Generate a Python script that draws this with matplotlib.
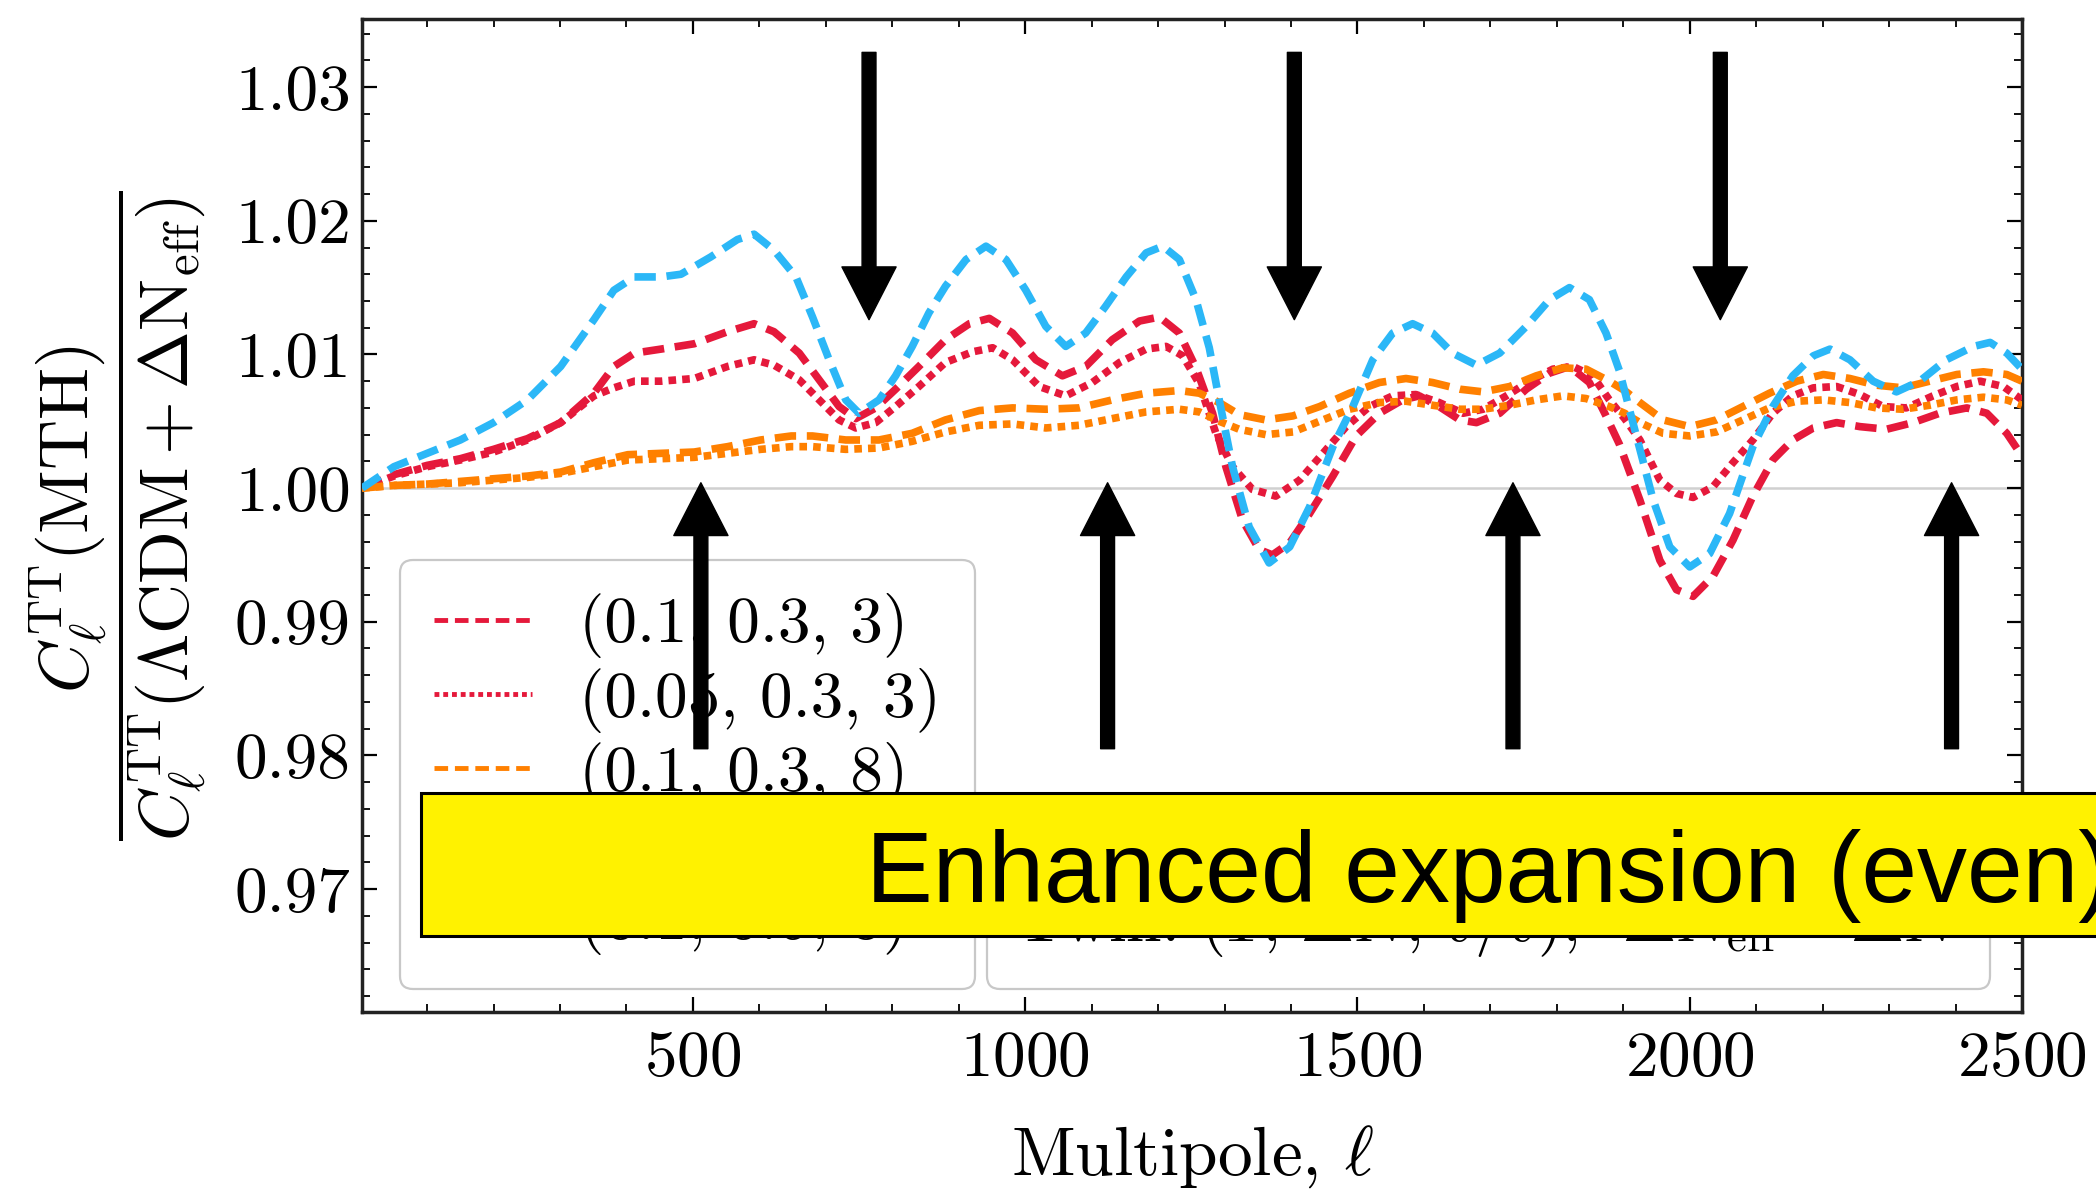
import matplotlib
matplotlib.use('Agg')
import matplotlib.pyplot as plt
from matplotlib.lines import Line2D
from matplotlib.patches import Rectangle
from matplotlib.ticker import MultipleLocator, FormatStrFormatter

plt.rcParams.update({
    'font.family': 'serif',
    'font.serif': ['cmr10'],
    'mathtext.fontset': 'cm',
    'axes.unicode_minus': False,
    'axes.formatter.use_mathtext': True,
})

# (0.1, 0.3, 3) red dashed
ell_red = [2, 50, 100, 150, 200, 251, 301, 351, 381, 412,
           452, 502, 552, 592, 622, 660, 690, 720, 745, 775,
           805, 840, 880, 916, 946, 981, 1016, 1056, 1091, 1131,
           1172, 1202, 1232, 1257, 1282, 1302, 1327, 1352, 1372, 1398,
           1428, 1463, 1498, 1533, 1568, 1593, 1623, 1654, 1679, 1714,
           1754, 1789, 1819, 1849, 1874, 1894, 1925, 1955, 1980, 2005,
           2035, 2065, 2095, 2125, 2155, 2186, 2221, 2256, 2296, 2336,
           2376, 2417, 2447, 2477, 2500]
red_dash = [1.0000, 1.0010, 1.0017, 1.0022, 1.0029, 1.0037, 1.0049, 1.0071, 1.0091, 1.0101,
            1.0104, 1.0108, 1.0117, 1.0123, 1.0117, 1.0101, 1.0081, 1.0061, 1.0052, 1.0060,
            1.0074, 1.0091, 1.0111, 1.0123, 1.0127, 1.0116, 1.0096, 1.0084, 1.0091, 1.0111,
            1.0125, 1.0128, 1.0116, 1.0090, 1.0056, 1.0016, 0.9976, 0.9954, 0.9950, 0.9959,
            0.9981, 1.0009, 1.0039, 1.0056, 1.0066, 1.0069, 1.0061, 1.0051, 1.0049, 1.0056,
            1.0074, 1.0086, 1.0091, 1.0079, 1.0054, 1.0033, 0.9991, 0.9946, 0.9924, 0.9919,
            0.9934, 0.9961, 0.9994, 1.0021, 1.0036, 1.0045, 1.0049, 1.0046, 1.0044, 1.0049,
            1.0056, 1.0060, 1.0056, 1.0041, 1.0024]

# (0.05, 0.3, 3) red dotted
ell_red_dot = [2, 50, 100, 150, 200, 251, 301, 351, 381, 412,
               452, 502, 552, 592, 622, 660, 690, 720, 745, 775,
               805, 840, 880, 921, 951, 981, 1021, 1061, 1101, 1142,
               1182, 1212, 1237, 1262, 1287, 1312, 1342, 1377, 1413, 1448,
               1483, 1518, 1553, 1588, 1623, 1659, 1689, 1724, 1759, 1794,
               1824, 1854, 1879, 1902, 1925, 1955, 1980, 2005, 2035, 2065,
               2095, 2125, 2155, 2186, 2221, 2256, 2291, 2326, 2366, 2402,
               2437, 2472, 2500]
red_dot = [1.0000, 1.0009, 1.0016, 1.0021, 1.0027, 1.0036, 1.0049, 1.0069, 1.0075, 1.0080,
           1.0080, 1.0082, 1.0091, 1.0096, 1.0092, 1.0081, 1.0066, 1.0051, 1.0045, 1.0049,
           1.0061, 1.0076, 1.0094, 1.0102, 1.0105, 1.0096, 1.0076, 1.0069, 1.0079, 1.0094,
           1.0104, 1.0106, 1.0099, 1.0078, 1.0041, 1.0016, 0.9999, 0.9994, 1.0006, 1.0026,
           1.0046, 1.0061, 1.0069, 1.0070, 1.0064, 1.0056, 1.0059, 1.0069, 1.0080, 1.0089,
           1.0091, 1.0084, 1.0066, 1.0052, 1.0036, 1.0006, 0.9996, 0.9993, 1.0001, 1.0019,
           1.0036, 1.0056, 1.0069, 1.0075, 1.0076, 1.0070, 1.0061, 1.0060, 1.0069, 1.0076,
           1.0080, 1.0076, 1.0066]

# (0.1, 0.3, 8) orange dashed and (0.05, 0.3, 8) orange dotted
ell_orange = [2, 50, 100, 150, 200, 251, 301, 351, 402, 452,
              502, 552, 602, 648, 680, 730, 780, 830, 880, 931,
              981, 1031, 1081, 1131, 1182, 1232, 1262, 1292, 1322, 1362,
              1403, 1443, 1488, 1533, 1573, 1613, 1654, 1689, 1729, 1769,
              1809, 1844, 1879, 1902, 1925, 1960, 2000, 2040, 2080, 2120,
              2161, 2201, 2241, 2281, 2321, 2361, 2402, 2442, 2477, 2500]
orange_dash = [1.0000, 1.0002, 1.0003, 1.0005, 1.0007, 1.0009, 1.0012, 1.0019, 1.0025, 1.0026,
               1.0027, 1.0031, 1.0036, 1.0039, 1.0039, 1.0036, 1.0036, 1.0041, 1.0051, 1.0058,
               1.0060, 1.0059, 1.0060, 1.0066, 1.0071, 1.0073, 1.0071, 1.0064, 1.0055, 1.0051,
               1.0054, 1.0061, 1.0071, 1.0079, 1.0082, 1.0079, 1.0074, 1.0072, 1.0076, 1.0084,
               1.0090, 1.0089, 1.0080, 1.0073, 1.0064, 1.0051, 1.0046, 1.0051, 1.0061, 1.0071,
               1.0080, 1.0085, 1.0082, 1.0077, 1.0075, 1.0080, 1.0085, 1.0087, 1.0085, 1.0080]
orange_dot = [1.0000, 1.0002, 1.0003, 1.0004, 1.0006, 1.0008, 1.0011, 1.0016, 1.0021, 1.0022,
              1.0023, 1.0026, 1.0029, 1.0031, 1.0031, 1.0029, 1.0030, 1.0035, 1.0042, 1.0047,
              1.0048, 1.0045, 1.0047, 1.0052, 1.0057, 1.0059, 1.0057, 1.0050, 1.0044, 1.0040,
              1.0042, 1.0050, 1.0059, 1.0064, 1.0065, 1.0062, 1.0059, 1.0059, 1.0062, 1.0066,
              1.0069, 1.0067, 1.0061, 1.0056, 1.0049, 1.0041, 1.0039, 1.0042, 1.0051, 1.0060,
              1.0065, 1.0066, 1.0064, 1.0060, 1.0059, 1.0062, 1.0066, 1.0068, 1.0066, 1.0062]

# (0.1, 0.5, 3) blue dashed
ell_blue = [2, 50, 100, 150, 200, 251, 301, 351, 381, 412,
            452, 482, 527, 567, 592, 622, 655, 680, 705, 730,
            750, 780, 805, 830, 855, 880, 911, 941, 971, 1001,
            1031, 1061, 1091, 1121, 1152, 1182, 1207, 1232, 1257, 1277,
            1292, 1312, 1337, 1367, 1398, 1428, 1463, 1493, 1523, 1553,
            1583, 1613, 1643, 1679, 1714, 1754, 1789, 1819, 1849, 1874,
            1894, 1915, 1945, 1970, 2000, 2030, 2060, 2095, 2125, 2155,
            2186, 2211, 2241, 2276, 2311, 2346, 2386, 2427, 2452, 2477,
            2500]
blue_dash = [1.0000, 1.0016, 1.0026, 1.0036, 1.0049, 1.0066, 1.0091, 1.0126, 1.0148, 1.0158,
             1.0158, 1.0160, 1.0173, 1.0186, 1.0190, 1.0178, 1.0158, 1.0128, 1.0096, 1.0066,
             1.0056, 1.0066, 1.0084, 1.0106, 1.0131, 1.0151, 1.0171, 1.0181, 1.0171, 1.0148,
             1.0121, 1.0106, 1.0116, 1.0136, 1.0158, 1.0176, 1.0181, 1.0171, 1.0141, 1.0105,
             1.0066, 1.0016, 0.9971, 0.9944, 0.9956, 0.9986, 1.0031, 1.0061, 1.0096, 1.0116,
             1.0123, 1.0116, 1.0101, 1.0092, 1.0101, 1.0121, 1.0141, 1.0150, 1.0141, 1.0116,
             1.0088, 1.0048, 0.9991, 0.9956, 0.9941, 0.9951, 0.9981, 1.0031, 1.0061, 1.0084,
             1.0099, 1.0104, 1.0096, 1.0080, 1.0072, 1.0080, 1.0096, 1.0106, 1.0109, 1.0101,
             1.0089]

labels = ['(0.1, 0.3, 3)', '(0.05, 0.3, 3)', '(0.1, 0.3, 8)', '(0.05, 0.3, 8)', '(0.1, 0.5, 3)']
twin_label = r'Twin: $(\hat{T},\, \Delta N,\, \hat{v}/v)$,  $\Delta N_{\rm eff} = \Delta N$'

# arrow positions (multipole) for the odd/even peak markers
down_arrows = [765, 1405, 2046]
up_arrows = [512, 1124, 1734, 2394]

RED = '#e5193b'
ORANGE = '#ff8000'
BLUE = '#2bb7f7'
DASH = (2.8, 1.4)
DOT = (1.0, 0.8)

fig = plt.figure(figsize=(20.96, 11.93), dpi=100)
ax = fig.add_axes([0.1727, 0.1517, 0.792, 0.8324])

ax.axhline(1.0, color='#d0d0d0', lw=1.8, zorder=1)

ax.plot(ell_red, red_dash, color=RED, lw=5.5, dashes=DASH, zorder=3)
ax.plot(ell_red_dot, red_dot, color=RED, lw=5.5, dashes=DOT, zorder=3)
ax.plot(ell_orange, orange_dash, color=ORANGE, lw=5.5, dashes=DASH, zorder=3)
ax.plot(ell_orange, orange_dot, color=ORANGE, lw=5.5, dashes=DOT, zorder=3)
ax.plot(ell_blue, blue_dash, color=BLUE, lw=5.5, dashes=DASH, zorder=3)

ax.set_xlim(2, 2500)
ax.set_ylim(0.9608, 1.0351)
ax.xaxis.set_major_locator(MultipleLocator(500))
ax.xaxis.set_minor_locator(MultipleLocator(100))
ax.yaxis.set_major_locator(MultipleLocator(0.01))
ax.yaxis.set_minor_locator(MultipleLocator(0.002))
ax.yaxis.set_major_formatter(FormatStrFormatter('%.2f'))
ax.tick_params(which='both', direction='in', top=True, right=True, labelsize=47)
ax.tick_params(which='major', length=11, width=1.6)
ax.tick_params(which='minor', length=6, width=1.3)
ax.tick_params(axis='x', pad=14)
ax.tick_params(axis='y', pad=8)
for s in ax.spines.values():
    s.set_linewidth(2.5)
    s.set_color('#222222')

ax.set_xlabel(r'Multipole, $\ell$', fontsize=50)
ax.xaxis.set_label_coords(0.5, -0.112)
ax.set_ylabel(r'$\dfrac{C_\ell^{\rm TT}({\rm MTH})}{C_\ell^{\rm TT}(\Lambda{\rm CDM}+\Delta{\rm N}_{\rm eff})}$',
              fontsize=50)
ax.yaxis.set_label_coords(-0.093, 0.5)

handles = [
    Line2D([], [], color=RED, lw=3.5, dashes=DASH),
    Line2D([], [], color=RED, lw=3.5, dashes=DOT),
    Line2D([], [], color=ORANGE, lw=3.5, dashes=DASH),
    Line2D([], [], color=ORANGE, lw=3.5, dashes=DOT),
    Line2D([], [], color=BLUE, lw=3.5, dashes=DASH),
]
leg1 = ax.legend(handles, labels, loc='lower left', bbox_to_anchor=(0.0229, 0.0232),
                 borderaxespad=0, fontsize=47, handlelength=1.5, handletextpad=0.72,
                 labelspacing=0.14, borderpad=0.52, fancybox=True, framealpha=1,
                 edgecolor='#c8c8c8')
leg1.get_frame().set_linewidth(1.6)
leg1.set_zorder(5)
ax.add_artist(leg1)

leg2 = ax.legend([Line2D([], [], alpha=0)], [twin_label], loc='lower left',
                 bbox_to_anchor=(0.3765, 0.0232), borderaxespad=0, fontsize=46,
                 handlelength=0, handletextpad=0, borderpad=0.45, fancybox=True,
                 framealpha=1, edgecolor='#c8c8c8')
leg2.get_frame().set_linewidth(1.6)
leg2.set_zorder(5)

arrow_kw = dict(facecolor='black', edgecolor='black', width=10, headwidth=39,
                headlength=38, shrink=0)
for x in down_arrows:
    ax.annotate('', xy=(x, 1.0126), xytext=(x, 1.0326), arrowprops=arrow_kw,
                zorder=10, annotation_clip=False)
for x in up_arrows:
    ax.annotate('', xy=(x, 1.0004), xytext=(x, 0.9805), arrowprops=arrow_kw,
                zorder=10, annotation_clip=False)

# yellow banner laid over the figure
banner = Rectangle((0.2009, 0.2154), 0.9, 0.1199, transform=fig.transFigure,
                   facecolor='#fff200', edgecolor='black', lw=2.2, zorder=20)
fig.add_artist(banner)
fig.text(0.4132, 0.2439, 'Enhanced expansion (even)', fontsize=72,
         family='Liberation Sans', color='black', va='baseline', ha='left', zorder=21)

fig.savefig('out.png', dpi=100)
